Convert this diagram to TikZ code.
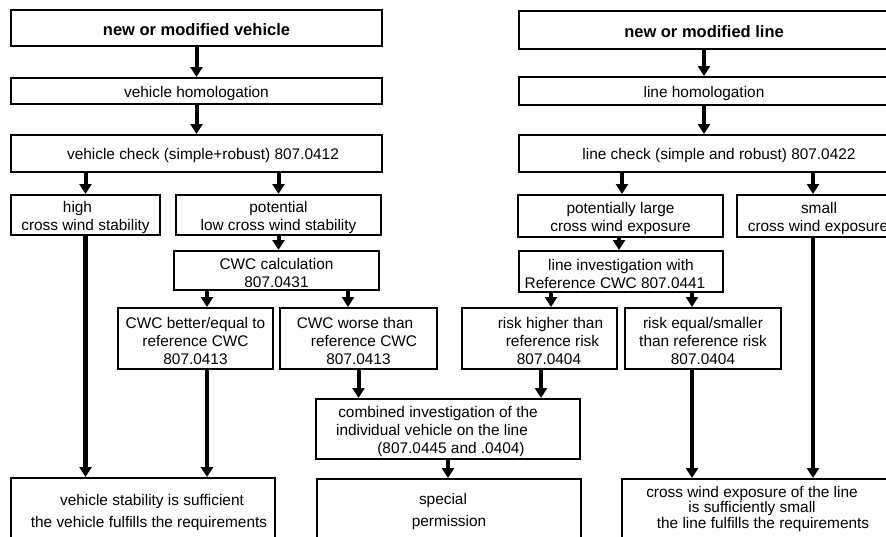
\documentclass[tikz,border=0pt]{standalone}
\usepackage{fontspec}
\setmainfont{Liberation Sans}
\usetikzlibrary{arrows.meta}
\newcommand\mystrut{\rule{0pt}{16pt}}
\begin{document}
\begin{tikzpicture}[x=1pt,y=-1pt,
  box/.style={draw,line width=2pt,inner sep=1pt,align=center,
    font=\fontsize{15.4}{18}\selectfont},
  title/.style={box,font=\fontsize{16.5}{19}\selectfont\bfseries},
  arr/.style={line width=4pt,-{Triangle[width=12pt,length=10pt]}},
  longarr/.style={arr,line width=4.8pt}]
\useasboundingbox (0,0) rectangle (886,536);
\clip (0,0) rectangle (886,536);
\fill[white] (0,0) rectangle (886,536);

% ---------------- vehicle side ----------------
\node[title,minimum width=371pt,minimum height=36pt] (v1) at (196.5,28) {\mystrut new or modified vehicle};
\node[box,minimum width=371pt,minimum height=26pt] (v2) at (196.5,91) {\mystrut vehicle homologation};
\node[box,minimum width=371pt,minimum height=37pt] (v3) at (196.5,153.5) {\mystrut\hspace*{13pt}vehicle check (simple+robust) 807.0412};
\node[box,minimum width=149pt,minimum height=40pt] (vhigh) at (85.5,215) {\mystrut high\hspace*{16pt}\mbox{}\\cross wind stability};
\node[box,minimum width=205pt,minimum height=40pt] (vpot) at (278.5,215) {\mystrut potential\\low cross wind stability};
\node[box,minimum width=205pt,minimum height=39pt] (cwc) at (276.5,270.5) {\mystrut CWC calculation\\807.0431};
\node[box,minimum width=155pt,minimum height=61pt] (better) at (195.5,338.5) {\mystrut CWC better/equal to\\reference CWC\\807.0413};
\node[box,minimum width=157pt,minimum height=61pt] (worse) at (358.5,338.5) {\mystrut CWC worse than\hspace*{7pt}\mbox{}\\\hspace*{11pt}reference CWC\\807.0413};
\node[box,minimum width=264pt,minimum height=72.8pt] (vres) at (143,514.4) {\mystrut\hspace*{18pt}vehicle stability is sufficient\\[4pt]\hspace*{12pt}the vehicle fulfills the requirements\rule[-12pt]{0pt}{12pt}};

% ---------------- combined ----------------
\node[box,minimum width=264pt,minimum height=60pt] (comb) at (448,429) {\mystrut combined investigation of the\hspace*{20pt}\mbox{}\\individual vehicle on the line\hspace*{32pt}\mbox{}\\\hspace*{6pt}(807.0445 and .0404)};
\node[box,minimum width=264pt,minimum height=68.8pt] (special) at (449,513.4) {\mystrut special\hspace*{12pt}\mbox{}\\[4pt]permission\rule[-12pt]{0pt}{12pt}};

% ---------------- line side ----------------
\node[title,minimum width=370pt,minimum height=38.5pt] (l1) at (704,29.75) {\mystrut new or modified line};
\node[box,minimum width=370pt,minimum height=28pt] (l2) at (704,91) {\mystrut line homologation};
\node[box,minimum width=370pt,minimum height=37pt] (l3) at (704,153.5) {\mystrut\hspace*{30pt}line check (simple and robust) 807.0422};
\node[box,minimum width=205pt,minimum height=42pt] (lpot) at (620.5,216) {\mystrut potentially large\\cross wind exposure};
\node[box,minimum width=152pt,minimum height=42pt] (lsmall) at (813,216) {\mystrut\hspace*{12pt}small\\\hspace*{10pt}cross wind exposure};
\node[box,minimum width=204pt,minimum height=41pt] (linv) at (621,271.5) {\mystrut line investigation with\\Reference CWC 807.0441\hspace*{12pt}\mbox{}};
\node[box,minimum width=155pt,minimum height=61pt] (rhigh) at (539.5,338.5) {\mystrut\hspace*{22pt}risk higher than\\\hspace*{26pt}reference risk\\\hspace*{19pt}807.0404};
\node[box,minimum width=156pt,minimum height=61pt] (requal) at (703,338.5) {\mystrut risk equal/smaller\\than reference risk\\807.0404};
\node[box,minimum width=267pt,minimum height=63.8pt] (lres) at (755.5,510.9) {\mystrut cross wind exposure of the line\hspace*{7pt}\mbox{}\\[-2.5pt]is sufficiently small\hspace*{7pt}\mbox{}\\[-2.5pt]\hspace*{15pt}the line fulfills the requirements\rule[-12pt]{0pt}{12pt}};

% ---------------- connectors: vehicle ----------------
\draw[arr] (v1.south) -- (v2.north);
\draw[arr] (v2.south) -- (v3.north);
\draw[arr] (v3.south -| vhigh.north) -- (vhigh.north);
\draw[arr] (v3.south -| vpot.north) -- (vpot.north);
\draw[arr] (vpot.south) -- (vpot.south |- cwc.north);
\draw[arr] ([xshift=11.5pt]better.north |- cwc.south) -- ([xshift=11.5pt]better.north);
\draw[arr] ([xshift=-10.5pt]worse.north |- cwc.south) -- ([xshift=-10.5pt]worse.north);
\draw[longarr] (vhigh.south) -- (vhigh.south |- vres.north);
\draw[longarr] ([xshift=11.5pt]better.south) -- ([xshift=11.5pt]better.south |- vres.north);

% ---------------- connectors: combined ----------------
\draw[arr] (worse.south) -- (worse.south |- comb.north);
\draw[arr] ([xshift=1.5pt]rhigh.south) -- ([xshift=1.5pt]rhigh.south |- comb.north);
\draw[arr] (comb.south) -- (comb.south |- special.north);

% ---------------- connectors: line ----------------
\draw[arr] (l1.south) -- (l2.north);
\draw[arr] (l2.south) -- (l3.north);
\draw[arr] ([xshift=1.5pt]lpot.north |- l3.south) -- ([xshift=1.5pt]lpot.north);
\draw[arr] (l3.south -| lsmall.north) -- (lsmall.north);
\draw[arr] ([xshift=-1.5pt]lpot.south) -- ([xshift=-1.5pt]lpot.south |- linv.north);
\draw[arr] ([xshift=11.5pt]rhigh.north |- linv.south) -- ([xshift=11.5pt]rhigh.north);
\draw[arr] ([xshift=-11pt]requal.north |- linv.south) -- ([xshift=-11pt]requal.north);
\draw[longarr] ([xshift=-11pt]requal.south) -- ([xshift=-11pt]requal.south |- lres.north);
\draw[longarr] (lsmall.south) -- (lsmall.south |- lres.north);
\end{tikzpicture}
\end{document}
